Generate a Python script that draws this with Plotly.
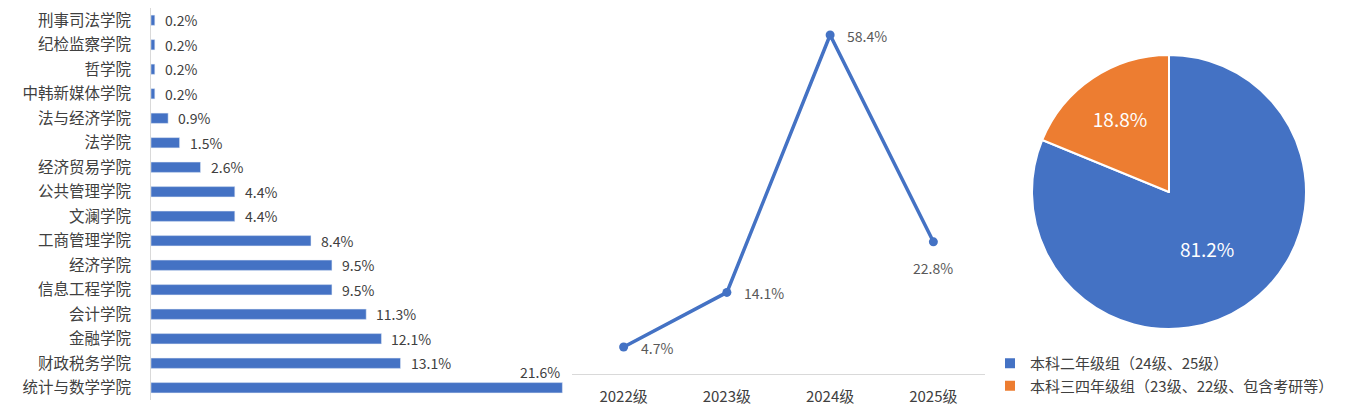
import plotly.graph_objects as go

# ---- data ----
colleges = ["刑事司法学院", "纪检监察学院", "哲学院", "中韩新媒体学院", "法与经济学院", "法学院",
            "经济贸易学院", "公共管理学院", "文澜学院", "工商管理学院", "经济学院", "信息工程学院",
            "会计学院", "金融学院", "财政税务学院", "统计与数学学院"]
college_pct = [0.2, 0.2, 0.2, 0.2, 0.9, 1.5, 2.6, 4.4, 4.4, 8.4, 9.5, 9.5, 11.3, 12.1, 13.1, 21.6]

grades = ["2022级", "2023级", "2024级", "2025级"]
grade_pct = [4.7, 14.1, 58.4, 22.8]

groups = ["本科二年级组（24级、25级）", "本科三四年级组（23级、22级、包含考研等）"]
group_pct = [81.2, 18.8]

BLUE = "#4472C4"
ORANGE = "#ED7D31"
FONT = "Noto Sans CJK SC"
TXT = "#404040"

fig = go.Figure()

# ---- bar chart ----
fig.add_trace(go.Bar(
    x=college_pct, y=colleges, orientation="h",
    marker=dict(color=BLUE), width=0.42,
    xaxis="x", yaxis="y", showlegend=False, hoverinfo="x+y",
))
for i, (c, v) in enumerate(zip(colleges, college_pct)):
    if i == len(colleges) - 1:
        fig.add_annotation(x=v, y=c, xref="x", yref="y", text=f"{v}%", showarrow=False,
                           xanchor="right", yanchor="middle", yshift=16,
                           font=dict(size=14, color=TXT, family=FONT))
    else:
        fig.add_annotation(x=v, y=c, xref="x", yref="y", text=f"{v}%", showarrow=False,
                           xanchor="left", yanchor="middle", xshift=8,
                           font=dict(size=14, color=TXT, family=FONT))

# ---- line chart ----
fig.add_trace(go.Scatter(
    x=grades, y=grade_pct, mode="lines+markers",
    line=dict(color=BLUE, width=3.5), marker=dict(color=BLUE, size=9),
    cliponaxis=False, xaxis="x2", yaxis="y2", showlegend=False,
))
for i, (g, v) in enumerate(zip(grades, grade_pct)):
    if i == len(grades) - 1:
        fig.add_annotation(x=g, y=v, xref="x2", yref="y2", text=f"{v}%", showarrow=False,
                           xanchor="center", yanchor="middle", yshift=-26,
                           font=dict(size=14, color="#595959", family=FONT))
    else:
        fig.add_annotation(x=g, y=v, xref="x2", yref="y2", text=f"{v}%", showarrow=False,
                           xanchor="left", yanchor="middle", xshift=15, yshift=-1,
                           font=dict(size=14, color="#595959", family=FONT))

# ---- pie chart ----
fig.add_trace(go.Pie(
    labels=groups, values=group_pct, sort=False, direction="clockwise",
    marker=dict(colors=[BLUE, ORANGE], line=dict(color="white", width=2)),
    texttemplate="%{value}%", textposition="inside", insidetextorientation="horizontal",
    textfont=dict(size=19, color="white", family=FONT),
    domain=dict(x=[1032/1345, 1306/1345], y=[1-329/408, 1-55/408]),
    showlegend=True,
))

fig.update_layout(
    width=1345, height=408,
    margin=dict(l=0, r=0, t=0, b=0),
    paper_bgcolor="white", plot_bgcolor="white",
    font=dict(family=FONT, color=TXT, size=14),
    xaxis=dict(domain=[151/1345, 570/1345], range=[0, 22], visible=False),
    yaxis=dict(domain=[1-400/408, 1-8/408], range=[15.5, -0.5], anchor="x",
               showline=True, linecolor="#D9D9D9", linewidth=1, ticks="",
               tickfont=dict(size=15.5, color=TXT, family=FONT), ticklabelstandoff=16,
               showgrid=False, zeroline=False),
    xaxis2=dict(domain=[572/1345, 985/1345], range=[-0.5, 3.5], anchor="y2",
                showline=True, linecolor="#D9D9D9", linewidth=1, ticks="",
                tickfont=dict(size=15, color=TXT, family=FONT), ticklabelstandoff=9,
                showgrid=False, zeroline=False),
    yaxis2=dict(domain=[1-374.3/408, 1-25.7/408], range=[0, 60], anchor="x2",
                visible=False, showgrid=False),
    legend=dict(x=990/1345, y=1-347/408, xanchor="left", yanchor="top",
                font=dict(size=15, color=TXT, family=FONT), bgcolor="rgba(0,0,0,0)"),
)

fig.write_html(
    "out.html",
    config={"displayModeBar": False},
    post_script=("document.body.style.margin='0px';"
                 "document.body.style.overflow='hidden';"
                 "document.documentElement.style.overflow='hidden';"),
)
